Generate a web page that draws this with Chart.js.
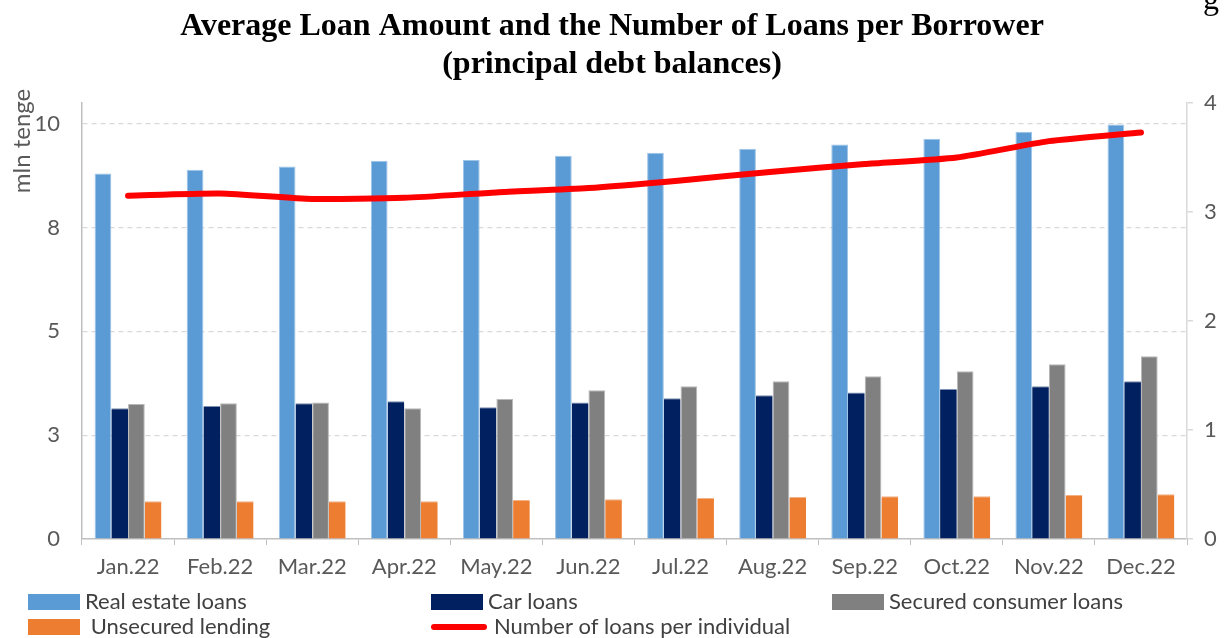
<!DOCTYPE html>
<html>
<head>
<meta charset="utf-8">
<title>Average Loan Amount and the Number of Loans per Borrower</title>
<script src="https://cdn.jsdelivr.net/npm/chart.js@4"></script>
<style>
  html, body { margin: 0; padding: 0; background: #ffffff; }
  .chart-container { position: relative; width: 1224px; height: 638px; }
</style>
</head>
<body>
<section class="chart-container">
  <canvas id="loan-chart" width="1224" height="638"></canvas>
</section>
<script>
const months = ["Jan.22", "Feb.22", "Mar.22", "Apr.22", "May.22", "Jun.22", "Jul.22", "Aug.22", "Sep.22", "Oct.22", "Nov.22", "Dec.22"];

// mln tenge
const realEstateLoans = [8.80, 8.89, 8.97, 9.11, 9.13, 9.23, 9.30, 9.40, 9.50, 9.64, 9.81, 9.98];
const carLoans = [3.15, 3.20, 3.27, 3.32, 3.17, 3.29, 3.39, 3.46, 3.53, 3.61, 3.68, 3.80];
const securedConsumerLoans = [3.25, 3.27, 3.29, 3.15, 3.37, 3.58, 3.68, 3.80, 3.92, 4.04, 4.21, 4.40];
const unsecuredLending = [0.91, 0.91, 0.91, 0.91, 0.94, 0.96, 0.99, 1.01, 1.03, 1.03, 1.06, 1.08];

// loans per individual (right axis)
const loansPerIndividual = [3.15, 3.17, 3.12, 3.13, 3.18, 3.22, 3.29, 3.37, 3.44, 3.50, 3.65, 3.73];

const leftTickValues = [0, 2.5, 5, 7.5, 10];
const leftTickLabels = ["0", "3", "5", "8", "10"];
const rightTickLabels = ["0", "1", "2", "3", "4"];

const titleLines = ["Average Loan Amount and the Number of Loans per Borrower", "(principal debt balances)"];
const leftAxisTitle = "mln tenge";

const labelFont = "Lato, 'Open Sans', sans-serif";
const textColor = "#595959";
const axisColor = "#bfbfbf";

// title, rotated axis caption and the two-row legend
const decorPlugin = {
  id: "decor",
  afterDraw(chart) {
    const ctx = chart.ctx;
    ctx.save();

    ctx.fillStyle = "#000000";
    ctx.font = "bold 32px 'Liberation Serif', 'Times New Roman', serif";
    ctx.textAlign = "center";
    ctx.textBaseline = "middle";
    ctx.fillText(titleLines[0], 612, 27);
    ctx.fillText(titleLines[1], 612, 65);

    // leftover of the neighbouring heading, cut by the page edge
    ctx.font = "32px 'Liberation Serif', 'Times New Roman', serif";
    ctx.textAlign = "left";
    ctx.textBaseline = "alphabetic";
    ctx.fillText("g", 1203, 9);

    ctx.save();
    ctx.translate(22, 141);
    ctx.rotate(-Math.PI / 2);
    ctx.fillStyle = textColor;
    ctx.font = "24px " + labelFont;
    ctx.textAlign = "center";
    ctx.textBaseline = "middle";
    ctx.fillText(leftAxisTitle, 0, 0);
    ctx.restore();

    // legend: 3 columns, 2 rows, in dataset order
    const columns = [28, 431, 832];
    const rows = [602, 627];
    ctx.font = "22px " + labelFont;
    ctx.textAlign = "left";
    ctx.textBaseline = "middle";
    chart.data.datasets.forEach((dataset, index) => {
      const x = columns[index % 3];
      const y = rows[Math.floor(index / 3)];
      if (dataset.type === "line") {
        ctx.strokeStyle = dataset.borderColor;
        ctx.lineWidth = 6;
        ctx.lineCap = "round";
        ctx.beginPath();
        ctx.moveTo(x + 3, y);
        ctx.lineTo(x + 53, y);
        ctx.stroke();
      } else {
        ctx.fillStyle = dataset.backgroundColor;
        ctx.fillRect(x, y - 8, 52, 16);
      }
      ctx.fillStyle = "#404040";
      ctx.fillText(dataset.legendText || dataset.label, x + (dataset.type === "line" ? 63 : 57), y);
    });

    ctx.restore();
  },
};

const canvas = document.getElementById("loan-chart");

new Chart(canvas, {
  data: {
    labels: months,
    datasets: [
      {
        type: "bar",
        label: "Real estate loans",
        data: realEstateLoans,
        backgroundColor: "#5b9bd5",
        borderColor: "#9dc3e6",
        borderWidth: { top: 1, left: 1, right: 1, bottom: 0 },
        yAxisID: "y",
        order: 2,
      },
      {
        type: "bar",
        label: "Car loans",
        data: carLoans,
        backgroundColor: "#002060",
        borderColor: "#7f8fb0",
        borderWidth: { top: 1, left: 0, right: 0, bottom: 0 },
        yAxisID: "y",
        order: 2,
      },
      {
        type: "bar",
        label: "Secured consumer loans",
        data: securedConsumerLoans,
        backgroundColor: "#808080",
        borderColor: "#b8b8b8",
        borderWidth: { top: 1, left: 1, right: 1, bottom: 0 },
        yAxisID: "y",
        order: 2,
      },
      {
        type: "bar",
        label: "Unsecured lending",
        legendText: " Unsecured lending",
        data: unsecuredLending,
        backgroundColor: "#ed7d31",
        borderColor: "#f4b183",
        borderWidth: { top: 1, left: 0, right: 0, bottom: 0 },
        yAxisID: "y",
        order: 2,
      },
      {
        type: "line",
        label: "Number of loans per individual",
        data: loansPerIndividual,
        borderColor: "#ff0000",
        backgroundColor: "#ff0000",
        borderWidth: 6,
        borderCapStyle: "round",
        borderJoinStyle: "round",
        pointRadius: 0,
        tension: 0.2,
        fill: false,
        yAxisID: "y1",
        order: 1,
      },
    ],
  },
  options: {
    responsive: false,
    animation: false,
    layout: { padding: { top: 103, left: 0, right: 0, bottom: 0 } },
    datasets: {
      bar: { barPercentage: 1, categoryPercentage: 0.726 },
    },
    plugins: {
      legend: { display: false },
      title: { display: false },
      tooltip: { enabled: false },
    },
    scales: {
      x: {
        offset: true,
        grid: {
          offset: true,
          drawOnChartArea: false,
          drawTicks: true,
          tickLength: 6,
          color: axisColor,
        },
        border: { display: true, color: axisColor, width: 1.5 },
        ticks: {
          color: textColor,
          font: { family: labelFont, size: 22 },
          padding: 9,
          maxRotation: 0,
        },
        afterFit(scale) {
          scale.height = 99;
        },
      },
      y: {
        position: "left",
        min: 0,
        max: 10.5,
        afterBuildTicks(scale) {
          scale.ticks = leftTickValues.map((value) => ({ value }));
        },
        grid: {
          drawTicks: false,
          color: (ctx) => (ctx.tick && ctx.tick.value === 0 ? "rgba(0,0,0,0)" : "#d9d9d9"),
          lineWidth: 1.2,
        },
        border: { display: true, color: axisColor, width: 1.5, dash: [5, 4] },
        ticks: {
          color: textColor,
          font: { family: labelFont, size: 22 },
          padding: 22,
          callback: (value, index) => leftTickLabels[index],
        },
        afterFit(scale) {
          scale.width = 82;
        },
      },
      y1: {
        position: "right",
        min: 0,
        max: 4,
        ticks: {
          stepSize: 1,
          color: textColor,
          font: { family: labelFont, size: 22 },
          padding: 11,
          callback: (value, index) => rightTickLabels[index],
        },
        grid: {
          drawOnChartArea: false,
          drawTicks: true,
          tickLength: 6,
          color: "#d9d9d9",
          lineWidth: 1.5,
        },
        border: { display: true, color: "#d9d9d9", width: 1.5 },
        afterFit(scale) {
          scale.width = 37;
        },
      },
    },
  },
  plugins: [decorPlugin],
});
</script>
</body>
</html>
